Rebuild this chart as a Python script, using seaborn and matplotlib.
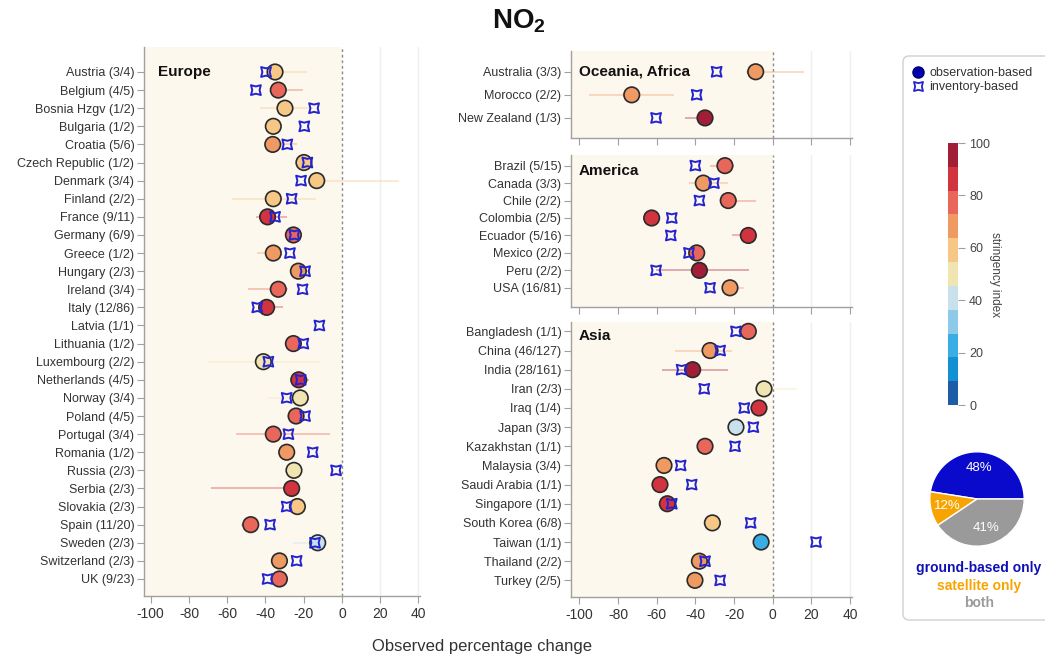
import numpy as np
import pandas as pd
import matplotlib
matplotlib.use("Agg")
import matplotlib as mpl
import matplotlib.pyplot as plt
import seaborn as sns
from matplotlib.path import Path
from matplotlib.colors import ListedColormap, BoundaryNorm, Normalize, to_hex
from matplotlib.lines import Line2D
from matplotlib.patches import FancyBboxPatch
from matplotlib.transforms import blended_transform_factory

nan = np.nan

# ---------------- data ----------------
eu_countries = ["Austria (3/4)", "Belgium (4/5)", "Bosnia Hzgv (1/2)", "Bulgaria (1/2)", "Croatia (5/6)",
                "Czech Republic (1/2)", "Denmark (3/4)", "Finland (2/2)", "France (9/11)", "Germany (6/9)",
                "Greece (1/2)", "Hungary (2/3)", "Ireland (3/4)", "Italy (12/86)", "Latvia (1/1)",
                "Lithuania (1/2)", "Luxembourg (2/2)", "Netherlands (4/5)", "Norway (3/4)", "Poland (4/5)",
                "Portugal (3/4)", "Romania (1/2)", "Russia (2/3)", "Serbia (2/3)", "Slovakia (2/3)",
                "Spain (11/20)", "Sweden (2/3)", "Switzerland (2/3)", "UK (9/23)"]
eu_obs = [-35.0, -33.3, -29.8, -35.9, -36.2, -19.9, -13.2, -35.9, -38.9, -25.4, -35.9, -22.8, -33.3, -39.4, nan,
          -25.4, -41.1, -22.6, -21.8, -24.0, -35.9, -28.9, -25.1, -26.3, -23.3, -47.7, -12.7, -32.7, -32.7]
eu_inv = [-39.7, -45.0, -14.6, -19.7, -28.6, -18.1, -21.4, -26.3, -35.0, -24.9, -27.2, -19.3, -20.6, -44.3, -11.8,
          -20.2, -38.5, -21.6, -28.9, -19.3, -28.0, -15.3, -3.1, nan, -28.9, -37.6, -14.1, -23.7, -38.9]
eu_lo = [-38, -37, -43, nan, -38, nan, -16, -57.3, -45, -27.5, -44.6, -25, -49, -42, nan,
         nan, -69.9, -25, -38.5, nan, -55.4, nan, nan, -68.6, nan, -52.8, -25.4, nan, -36]
eu_hi = [-18.5, -20.2, -15, nan, -23.4, nan, 30, -13.6, -29, -22, -32, -16.4, -28, -31, nan,
         nan, -11.5, -17, -20, nan, -6.3, nan, nan, -25, nan, -45, -10, nan, -28]
eu_stringency = [62, 78, 60, 60, 68, 60, 58, 60, 88, 80, 68, 68, 78, 88, nan,
                 78, 50, 84, 50, 78, 78, 68, 50, 86, 58, 78, 41, 68, 78]

oc_countries = ["Australia (3/3)", "Morocco (2/2)", "New Zealand (1/3)"]
oc_obs = [-8.8, -72.9, -35.0]
oc_inv = [-29.0, -39.3, -60.3]
oc_lo = [-14, -94.8, -45.3]
oc_hi = [16.2, -50.9, -33]
oc_stringency = [68, 68, 94]

am_countries = ["Brazil (5/15)", "Canada (3/3)", "Chile (2/2)", "Colombia (2/5)", "Ecuador (5/16)",
                "Mexico (2/2)", "Peru (2/2)", "USA (16/81)"]
am_obs = [-24.7, -35.9, -23.0, -62.6, -12.6, -39.3, -37.9, -22.1]
am_inv = [-40.0, -30.4, -37.9, -52.2, -52.7, -43.3, -60.3, -32.4]
am_lo = [-32.4, -43.1, -27, nan, -21.2, nan, -60.3, -26]
am_hi = [-20, -23.3, -8.6, nan, -10, nan, -12.4, -14.8]
am_stringency = [78, 68, 78, 86, 86, 78, 94, 68]

as_countries = ["Bangladesh (1/1)", "China (46/127)", "India (28/161)", "Iran (2/3)", "Iraq (1/4)",
                "Japan (3/3)", "Kazakhstan (1/1)", "Malaysia (3/4)", "Saudi Arabia (1/1)", "Singapore (1/1)",
                "South Korea (6/8)", "Taiwan (1/1)", "Thailand (2/2)", "Turkey (2/5)"]
as_obs = [-12.6, -32.4, -41.4, -4.5, -7.1, -19.0, -35.0, -56.2, -58.3, -54.5, -31.2, -6.0, -37.9, -40.2]
as_inv = [-19.0, -27.2, -47.1, -35.4, -14.7, -10.0, -19.5, -47.6, -41.9, -52.2, -11.4, 22.4, -35.0, -27.2]
as_lo = [nan, -50.5, -57.1, -2, nan, nan, nan, nan, nan, nan, nan, nan, nan, nan]
as_hi = [nan, -21.2, -23, 12.4, nan, nan, nan, nan, nan, nan, nan, nan, nan, nan]
as_stringency = [78, 68, 94, 50, 86, 41, 78, 68, 86, 86, 60, 24, 68, 68]

source_labels = ["ground-based only", "satellite only", "both"]
source_share = [48, 12, 41]

x_ticks = [-100, -80, -60, -40, -20, 0, 20, 40]
cbar_ticks = [0, 20, 40, 60, 80, 100]

# ---------------- style ----------------
sns.set_theme(style="white")
plt.rcParams["font.family"] = ["Liberation Sans", "DejaVu Sans"]
plt.rcParams["axes.unicode_minus"] = False
plt.rcParams["mathtext.fontset"] = "custom"
plt.rcParams["mathtext.rm"] = "Liberation Sans"
plt.rcParams["mathtext.bf"] = "Liberation Sans:bold"

stringency_colors = ["#1d5ca7", "#1290d2", "#38aee4", "#8dcaea", "#c8e1ec", "#f0e5b1",
                     "#f6c785", "#ef9a63", "#e8665a", "#d2343f", "#a21e37"]
cmap = ListedColormap(stringency_colors)
norm = BoundaryNorm(np.linspace(0, 100, len(stringency_colors) + 1), len(stringency_colors))

BEIGE = "#fdf8ee"
SPINE = "#a0a0a0"
TEXT = "#333333"
INV_BLUE = "#2323cf"
XMAX = 41.0

# inventory marker: a square with pinched sides
star = Path([(-1, -1), (0, -0.74), (1, -1), (0.74, 0), (1, 1), (0, 0.74), (-1, 1), (-0.74, 0), (-1, -1)],
            [Path.MOVETO] + [Path.LINETO] * 7 + [Path.CLOSEPOLY])

W, H = 1045, 656
fig = plt.figure(figsize=(W / 100, H / 100), dpi=100)


def px_axes(left, top, right, bottom, z=1):
    return fig.add_axes([left / W, 1 - bottom / H, (right - left) / W, (bottom - top) / H], zorder=z)


def draw_panel(ax, countries, obs, inv, lo, hi, strin, xmin, ylim, title, title_x, title_y, show_xlabels):
    df = pd.DataFrame({"country": countries, "row": np.arange(len(countries)), "obs": obs, "inv": inv,
                       "lo": lo, "hi": hi, "stringency": strin})
    df["color"] = [to_hex(cmap(norm(s))) if np.isfinite(s) else "#ffffff" for s in df["stringency"]]

    ax.axvspan(xmin, 0, color=BEIGE, lw=0, zorder=0)
    for g in (20, 40):
        ax.axvline(g, color="#efefef", lw=1, zorder=0.5)
    ax.axvline(0, color="#8a8a8a", lw=1, ls=(0, (2, 2)), zorder=1)

    eb = df.dropna(subset=["lo", "hi"])
    ax.hlines(eb["row"], eb["lo"], eb["hi"], colors=eb["color"], alpha=0.45, lw=1.1, zorder=2)

    od = df.dropna(subset=["obs"])
    sns.scatterplot(data=od, x="obs", y="row", hue="country", palette=dict(zip(od["country"], od["color"])),
                    s=125, edgecolor="#2a2a2a", linewidth=1.2, legend=False, ax=ax, zorder=3)

    idf = df.dropna(subset=["inv"])
    ax.scatter(idf["inv"], idf["row"], marker=star, s=50, facecolors="none", edgecolors=INV_BLUE,
               linewidths=1.4, zorder=4)

    ax.set_xlim(xmin, XMAX)
    ax.set_ylim(*ylim)
    ax.set_xlabel("")
    ax.set_ylabel("")
    ax.set_yticks(df["row"])
    ax.set_yticklabels(countries)
    ax.set_xticks(x_ticks)
    if show_xlabels:
        ax.set_xticklabels([str(t) for t in x_ticks])
    else:
        ax.set_xticklabels([])
    ax.tick_params(axis="y", length=5, width=0.8, color=SPINE, labelsize=9, labelcolor=TEXT, pad=2, left=True)
    ax.tick_params(axis="x", length=5, width=0.8, color=SPINE, labelsize=10, labelcolor=TEXT, pad=3, bottom=True)
    for side in ("top", "right"):
        ax.spines[side].set_visible(False)
    for side in ("left", "bottom"):
        ax.spines[side].set_color(SPINE)
        ax.spines[side].set_linewidth(1.0)
    tr = blended_transform_factory(ax.transAxes, ax.transData)
    ax.text(title_x, title_y, title, transform=tr, fontsize=11, fontweight="bold", color="#111111",
            ha="left", va="center", zorder=5)


ax_eu = px_axes(144, 47, 420.4, 596)
draw_panel(ax_eu, eu_countries, eu_obs, eu_inv, eu_lo, eu_hi, eu_stringency, -103.5,
           (28.94, -1.38), "Europe", 0.051, 0.0, True)

ax_oc = px_axes(571, 51, 852, 138)
draw_panel(ax_oc, oc_countries, oc_obs, oc_inv, oc_lo, oc_hi, oc_stringency, -104.3,
           (2.87, -0.9), "Oceania, Africa", 0.028, 0.0, False)

ax_am = px_axes(571, 155, 852, 307)
draw_panel(ax_am, am_countries, am_obs, am_inv, am_lo, am_hi, am_stringency, -104.3,
           (8.1, -0.61), "America", 0.028, 0.3, False)

ax_as = px_axes(571, 322, 852, 597)
draw_panel(ax_as, as_countries, as_obs, as_inv, as_lo, as_hi, as_stringency, -104.3,
           (13.87, -0.49), "Asia", 0.028, 0.25, True)

# titles
fig.text(519 / W, 1 - 21 / H, r"$\mathbf{NO_2}$", ha="center", va="center", fontsize=20, color="#111111")
fig.text(482 / W, 1 - 646 / H, "Observed percentage change", ha="center", va="center", fontsize=12, color=TEXT)

# side key box (behind the key elements)
box = FancyBboxPatch((903 / W, 1 - 620 / H), (1070 - 903) / W, (620 - 56) / H,
                     boxstyle="round,pad=0,rounding_size=0.006", mutation_aspect=W / H,
                     transform=fig.transFigure, facecolor="white", edgecolor="#d0d0d0", lw=1, zorder=-5)
fig.patches.append(box)

handles = [Line2D([], [], ls="", marker="o", markerfacecolor="#0000b0", markeredgecolor="#000070", markersize=8),
           Line2D([], [], ls="", marker=star, markerfacecolor="none", markeredgecolor=INV_BLUE,
                  markeredgewidth=1.3, markersize=6.5)]
fig.legend(handles, ["observation-based", "inventory-based"], loc="upper left",
           bbox_to_anchor=(912 / W, 1 - 67 / H), frameon=False, fontsize=9, handlelength=1.0,
           handletextpad=0.4, labelspacing=0.15, borderaxespad=0, borderpad=0, labelcolor=TEXT)

# stringency colour bar
cax = px_axes(948, 143, 958, 405, z=3)
cb = fig.colorbar(mpl.cm.ScalarMappable(norm=Normalize(0, 100), cmap=cmap), cax=cax, ticks=cbar_ticks)
cb.outline.set_visible(False)
cax.tick_params(length=5, width=0.8, color=SPINE, labelsize=9, labelcolor="#444444", pad=3)
cb.set_label("stringency index", rotation=270, fontsize=8.5, color="#444444", labelpad=8)

# data source pie
pax = px_axes(918, 440, 1036, 558, z=3)
pie_colors = ["#0a0acd", "#f8a400", "#9a9a9a"]
pax.pie(source_share, colors=pie_colors, startangle=0, counterclock=True,
        labels=[f"{v}%" for v in source_share], labeldistance=0.65,
        wedgeprops=dict(edgecolor="white", linewidth=1),
        textprops=dict(color="white", fontsize=9.5, ha="center", va="center"))
pax.set_aspect("equal")

for lab, col, y in zip(source_labels, ["#1010b8", "#f8a400", "#9a9a9a"], [568, 586, 603]):
    fig.text(979 / W, 1 - y / H, lab, ha="center", va="center", fontsize=10, fontweight="bold", color=col)

fig.savefig("out.png", dpi=100)
